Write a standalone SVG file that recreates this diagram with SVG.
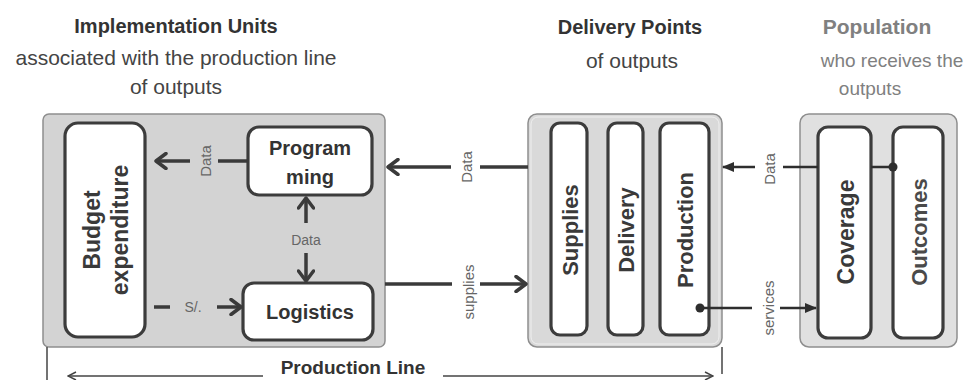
<svg xmlns="http://www.w3.org/2000/svg" width="964" height="380" viewBox="0 0 964 380">
<defs>
<style>
.t{font-family:"Liberation Sans",Arial,sans-serif}
.h{font-weight:bold;font-size:20px;fill:#333;text-anchor:middle}
.s{font-size:21px;fill:#444;text-anchor:middle}
.g{fill:#808080}
.panel{stroke:#8e8e8e;stroke-width:1.5}
.box{fill:#fff;stroke:#3c3c3c;stroke-width:3.2}
.bl{font-weight:bold;font-size:20px;fill:#333;text-anchor:middle}
.rl{font-weight:bold;font-size:22px;fill:#3a3a3a;text-anchor:middle;dominant-baseline:central}
.lbl{font-size:14px;fill:#666;text-anchor:middle;dominant-baseline:central}
.c{stroke:#3a3a3a;stroke-width:3.5;fill:none}
.ct{stroke:#2e2e2e;stroke-width:2.5;fill:none}
.pl{stroke:#444;stroke-width:1.5;fill:none}
</style>
<marker id="chev" viewBox="0 0 14 18" refX="12" refY="9" markerWidth="14" markerHeight="18" markerUnits="userSpaceOnUse" orient="auto">
<path d="M2,1.5 L12,9 L2,16.5" fill="none" stroke="#3a3a3a" stroke-width="3.5" stroke-linecap="round" stroke-linejoin="round"/>
</marker>
<marker id="tri" viewBox="0 0 12 12" refX="11" refY="6" markerWidth="12" markerHeight="12" markerUnits="userSpaceOnUse" orient="auto">
<path d="M0,1 L12,6 L0,11 Z" fill="#2e2e2e"/>
</marker>
<marker id="thin" viewBox="0 0 10 10" refX="9" refY="5" markerWidth="10" markerHeight="10" markerUnits="userSpaceOnUse" orient="auto">
<path d="M1,1 L9,5 L1,9" fill="none" stroke="#444" stroke-width="1.5"/>
</marker>
</defs>
<rect width="964" height="380" fill="#fff"/>

<g id="titles" class="t">
<text class="h" x="176" y="33">Implementation Units</text>
<text class="s" x="176" y="65">associated with the production line</text>
<text class="s" x="176" y="94">of outputs</text>
<text class="h" x="630" y="34">Delivery Points</text>
<text class="s" x="632" y="68">of outputs</text>
<text class="h g" x="877" y="34" style="font-size:21px">Population</text>
<text class="s g" x="892" y="67" style="font-size:19px">who receives the</text>
<text class="s g" x="870" y="95" style="font-size:19px">outputs</text>
</g>

<g id="implementation-units">
<rect class="panel" x="43" y="114" width="342" height="233" rx="6" fill="#d3d3d3"/>
</g>
<g id="budget-expenditure" class="t">
<rect class="box" x="65" y="123" width="80" height="214" rx="13"/>
<text class="rl" transform="translate(92,230) rotate(-90)" style="font-size:23px">Budget</text>
<text class="rl" transform="translate(120,230) rotate(-90)" style="font-size:23px">expenditure</text>
</g>
<g id="programming" class="t">
<rect class="box" x="248" y="127" width="124" height="68" rx="11"/>
<text class="bl" x="310" y="155">Program</text>
<text class="bl" x="310" y="184">ming</text>
</g>
<g id="logistics" class="t">
<rect class="box" x="243" y="283" width="130" height="57" rx="11"/>
<text class="bl" x="310" y="319">Logistics</text>
</g>

<g id="delivery-points">
<rect class="panel" x="528" y="114" width="194" height="233" rx="9" fill="#d9d9d9"/>
<rect x="531" y="117" width="188" height="227" rx="7" fill="none" stroke="#efefef" stroke-width="1"/>
</g>
<g id="supplies" class="t">
<rect class="box" x="551" y="123" width="36" height="212" rx="9"/>
<text class="rl" transform="translate(570,230) rotate(-90)">Supplies</text>
</g>
<g id="delivery" class="t">
<rect class="box" x="608" y="123" width="35" height="212" rx="9"/>
<text class="rl" transform="translate(626,230) rotate(-90)">Delivery</text>
</g>
<g id="production" class="t">
<rect class="box" x="660" y="123" width="49" height="212" rx="9"/>
<text class="rl" transform="translate(685,230) rotate(-90)">Production</text>
</g>

<g id="population">
<rect class="panel" x="800" y="114" width="157" height="233" rx="9" fill="#e0e0e0"/>
</g>
<g id="coverage" class="t">
<rect class="box" x="818" y="127" width="53" height="211" rx="10"/>
<text class="rl" transform="translate(846,232) rotate(-90)" style="font-size:23px">Coverage</text>
</g>
<g id="outcomes" class="t">
<rect class="box" x="893" y="127" width="50" height="211" rx="10"/>
<text class="rl" transform="translate(919,232) rotate(-90)" style="fill:#4a4a4a">Outcomes</text>
</g>

<g id="connectors">
<line class="c" x1="248" y1="161" x2="218" y2="161"/>
<line class="c" x1="190" y1="161" x2="156" y2="161" marker-end="url(#chev)"/>
<line class="c" x1="306" y1="223" x2="306" y2="198" marker-end="url(#chev)"/>
<line class="c" x1="306" y1="253" x2="306" y2="281" marker-end="url(#chev)"/>
<line class="c" x1="154" y1="307" x2="170" y2="307"/>
<line class="c" x1="217" y1="307" x2="241" y2="307" marker-end="url(#chev)"/>
<line class="c" x1="528" y1="167" x2="480" y2="167"/>
<line class="c" x1="451" y1="167" x2="388" y2="167" marker-end="url(#chev)"/>
<line class="c" x1="385" y1="284" x2="452" y2="284"/>
<line class="c" x1="480" y1="284" x2="526" y2="284" marker-end="url(#chev)"/>
<line class="ct" x1="871" y1="167" x2="893" y2="167"/>
<line class="ct" x1="818" y1="167" x2="783" y2="167"/>
<line class="ct" x1="755" y1="167" x2="723" y2="167" marker-end="url(#tri)"/>
<circle cx="893" cy="167" r="4.5" fill="#2e2e2e"/>
<line class="ct" x1="700" y1="308" x2="752" y2="308"/>
<line class="ct" x1="780" y1="308" x2="816" y2="308" marker-end="url(#tri)"/>
<circle cx="700" cy="308" r="4.5" fill="#2e2e2e"/>
<line class="pl" x1="47" y1="347" x2="47" y2="380"/>
<line class="pl" x1="722" y1="347" x2="722" y2="374"/>
<line class="pl" x1="263" y1="376" x2="68" y2="376" marker-end="url(#thin)"/>
<line class="pl" x1="443" y1="376" x2="713" y2="376" marker-end="url(#thin)"/>
</g>

<g id="labels" class="t">
<text class="lbl" transform="translate(205,161) rotate(-90)" style="font-size:15px">Data</text>
<text class="lbl" x="306" y="240">Data</text>
<text class="lbl" x="193" y="307">S/.</text>
<text class="lbl" transform="translate(466,167) rotate(-90)" style="font-size:15px">Data</text>
<text class="lbl" transform="translate(468,292) rotate(-90)" style="font-size:15px">supplies</text>
<text class="lbl" transform="translate(769,169) rotate(-90)" style="font-size:15px">Data</text>
<text class="lbl" transform="translate(768,308) rotate(-90)" style="font-size:15px">services</text>
<text x="353" y="374" text-anchor="middle" style="font-family:'Liberation Sans',Arial,sans-serif;font-weight:bold;font-size:19px;fill:#333">Production Line</text>
</g>
</svg>
